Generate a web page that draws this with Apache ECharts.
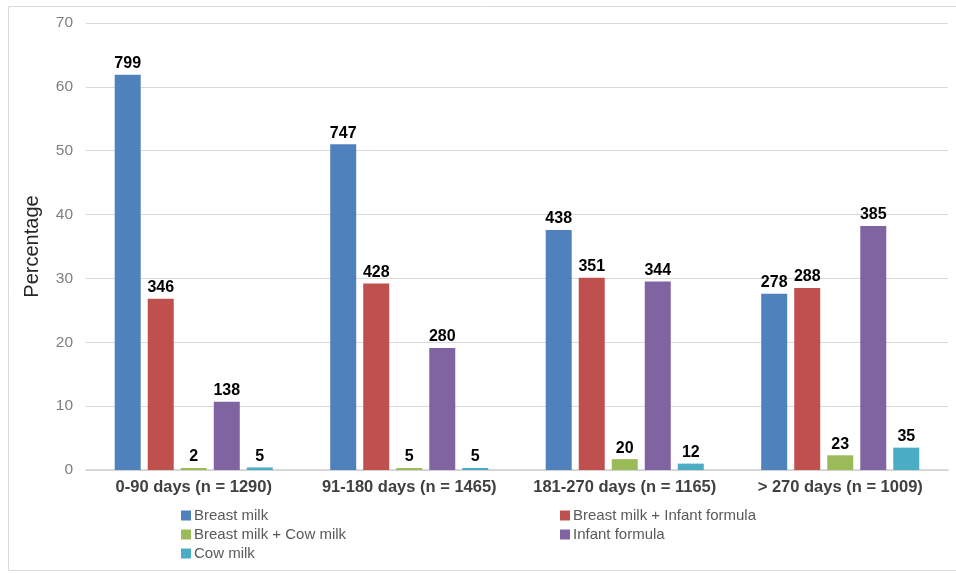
<!DOCTYPE html>
<html>
<head>
<meta charset="utf-8">
<script src="https://cdn.jsdelivr.net/npm/echarts@6/dist/echarts.min.js"></script>
<style>
html,body{margin:0;padding:0;background:#fff;}
#chart{width:956px;height:573px;}
</style>
</head>
<body>
<div id="chart"></div>
<script>
const categories = ['0-90 days (n = 1290)', '91-180 days (n = 1465)', '181-270 days (n = 1165)', '> 270 days (n = 1009)'];
const seriesNames = ['Breast milk', 'Breast milk + Infant formula', 'Breast milk + Cow milk', 'Infant formula', 'Cow milk'];
const breastMilk = [61.9, 51.0, 37.6, 27.6];
const breastMilkInfantFormula = [26.8, 29.2, 30.1, 28.5];
const breastMilkCowMilk = [0.2, 0.3, 1.7, 2.3];
const infantFormula = [10.7, 19.1, 29.5, 38.2];
const cowMilk = [0.4, 0.3, 1.0, 3.5];
const breastMilkCounts = [799, 747, 438, 278];
const breastMilkInfantFormulaCounts = [346, 428, 351, 288];
const breastMilkCowMilkCounts = [2, 5, 20, 23];
const infantFormulaCounts = [138, 280, 344, 385];
const cowMilkCounts = [5, 5, 12, 35];
const yTicks = [0, 10, 20, 30, 40, 50, 60, 70];

const colors = ['#4F81BD', '#C0504D', '#9BBB59', '#8064A2', '#4BACC6'];
const values = [breastMilk, breastMilkInfantFormula, breastMilkCowMilk, infantFormula, cowMilk];
const counts = [breastMilkCounts, breastMilkInfantFormulaCounts, breastMilkCowMilkCounts, infantFormulaCounts, cowMilkCounts];

const chart = echarts.init(document.getElementById('chart'));
const font = 'Liberation Sans, Arial, sans-serif';

const series = seriesNames.map((name, i) => ({
  name: name,
  type: 'bar',
  barWidth: 26,
  barGap: '27%',
  barMinHeight: 2,
  itemStyle: { color: colors[i] },
  data: values[i],
  label: {
    show: true,
    position: 'top',
    distance: 3,
    color: '#000',
    fontWeight: 'bold',
    fontSize: 16,
    fontFamily: font,
    formatter: (p) => String(counts[i][p.dataIndex])
  }
}));

chart.setOption({
  animation: false,
  backgroundColor: '#fff',
  textStyle: { fontFamily: font },
  graphic: [{
    type: 'rect',
    shape: { x: 8.5, y: 6.5, width: 950, height: 564 },
    style: { fill: 'none', stroke: '#d9d9d9', lineWidth: 1 },
    silent: true, z: -1
  }],
  grid: { left: 86, right: 8, top: 23, bottom: 103 },
  legend: [{
    orient: 'vertical',
    left: 176,
    top: 503,
    itemWidth: 10,
    itemHeight: 10,
    itemGap: 4,
    icon: 'rect',
    data: [seriesNames[0], seriesNames[2], seriesNames[4]],
    textStyle: { color: '#595959', fontSize: 15, fontFamily: font, padding: [0, 0, 0, -2] }
  }, {
    orient: 'vertical',
    left: 555,
    top: 503,
    itemWidth: 10,
    itemHeight: 10,
    itemGap: 4,
    icon: 'rect',
    data: [seriesNames[1], seriesNames[3]],
    textStyle: { color: '#595959', fontSize: 15, fontFamily: font, padding: [0, 0, 0, -2] }
  }],
  xAxis: {
    type: 'category',
    data: categories,
    axisLine: { lineStyle: { color: '#d0d0d0', width: 1.5 } },
    axisTick: { show: false },
    axisLabel: { interval: 0, color: '#404040', fontWeight: 'bold', fontSize: 16.5, fontFamily: font, margin: 9 }
  },
  yAxis: {
    type: 'value',
    min: 0,
    max: 70,
    interval: 10,
    name: 'Percentage',
    nameLocation: 'middle',
    nameGap: 44,
    nameTextStyle: { color: '#262626', fontSize: 20, fontFamily: font },
    axisLine: { show: false },
    axisTick: { show: false },
    splitLine: { lineStyle: { color: '#d9d9d9', width: 1 } },
    axisLabel: { color: '#7f7f7f', fontSize: 15.5, fontFamily: font, margin: 13,
      formatter: (v) => yTicks.includes(v) ? String(v) : '' }
  },
  series: series
});
</script>
</body>
</html>
